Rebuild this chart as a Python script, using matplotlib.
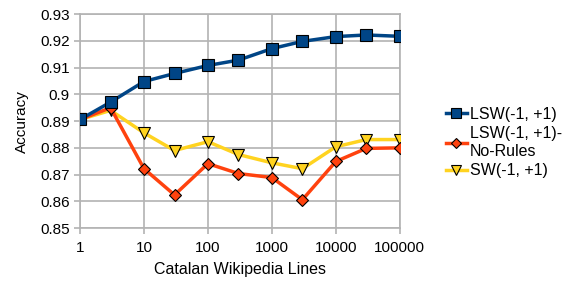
import matplotlib
matplotlib.use("Agg")
import matplotlib.pyplot as plt
from matplotlib.ticker import FixedLocator, NullLocator

plt.rcParams['font.family'] = ['Liberation Sans', 'DejaVu Sans']

lines = [1, 3, 10, 30, 100, 300, 1000, 3000, 10000, 30000, 100000]
lsw = [0.8906, 0.8971, 0.9048, 0.9078, 0.9108, 0.9128, 0.9171, 0.9198, 0.9216, 0.9222, 0.9217]
lsw_norules = [0.8906, 0.8950, 0.8722, 0.8624, 0.8741, 0.8704, 0.8689, 0.8606, 0.8749, 0.8798, 0.8800]
sw = [0.8906, 0.8940, 0.8856, 0.8790, 0.8823, 0.8775, 0.8744, 0.8722, 0.8804, 0.8831, 0.8831]

xticks = [1, 10, 100, 1000, 10000, 100000]
xticklabels = ['1', '10', '100', '1000', '10000', '100000']
yticks = [0.85, 0.86, 0.87, 0.88, 0.89, 0.9, 0.91, 0.92, 0.93]
yticklabels = ['0.85', '0.86', '0.87', '0.88', '0.89', '0.9', '0.91', '0.92', '0.93']

fig = plt.figure(figsize=(5.76, 2.88), dpi=100)
ax = fig.add_axes([0.139, 0.208, 0.555, 0.743])

ax.plot(lines, sw, color='#ffd320', lw=2.5, marker='v', ms=8, mec='black', mew=0.8,
        label='SW(-1, +1)', zorder=3)
ax.plot(lines, lsw_norules, color='#ff420e', lw=2.5, marker='D', ms=6.5, mec='black', mew=0.8,
        label='LSW(-1, +1)-\nNo-Rules', zorder=4)
ax.plot(lines, lsw, color='#004586', lw=2.5, marker='s', ms=8, mec='black', mew=0.8,
        label='LSW(-1, +1)', zorder=5)

ax.set_xscale('log')
ax.set_xlim(1, 100000)
ax.set_ylim(0.85, 0.93)
ax.xaxis.set_major_locator(FixedLocator(xticks))
ax.xaxis.set_minor_locator(NullLocator())
ax.set_xticklabels(xticklabels)
ax.set_yticks(yticks)
ax.set_yticklabels(yticklabels)

ax.grid(True, color='#b3b3b3', lw=1.2)
ax.set_axisbelow(True)
for s in ax.spines.values():
    s.set_color('#b3b3b3')
    s.set_linewidth(1.2)
ax.tick_params(axis='both', colors='#b3b3b3', labelcolor='black', labelsize=11, length=4, width=1.2)
ax.tick_params(axis='x', pad=5)

ax.set_xlabel('Catalan Wikipedia Lines', fontsize=11.5, labelpad=5)
ax.set_ylabel('Accuracy', fontsize=11, labelpad=8)

handles, labels = ax.get_legend_handles_labels()
order = [2, 1, 0]
ax.legend([handles[i] for i in order], [labels[i] for i in order],
          loc='center left', bbox_to_anchor=(1.10, 0.40), frameon=False,
          fontsize=11.5, handlelength=1.3, handletextpad=0.2, labelspacing=0.3,
          markerscale=0.85)

fig.savefig('out.png', dpi=100)
